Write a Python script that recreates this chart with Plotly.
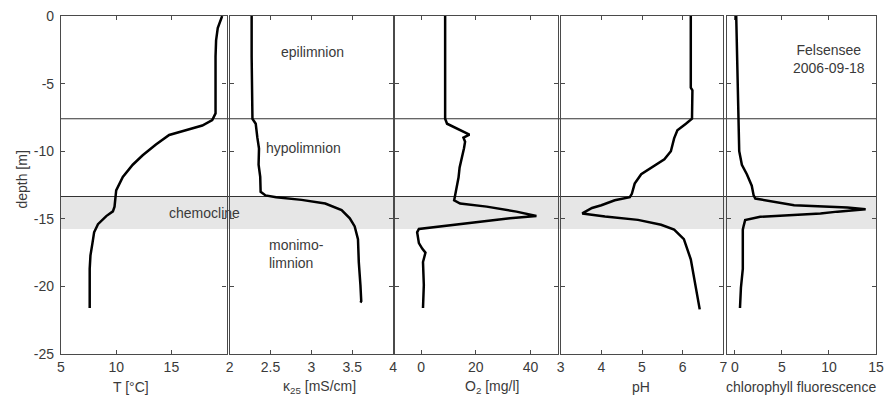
import plotly.graph_objects as go

# ---------------- data ----------------
depth_T = [0, -0.9, -1.8, -3, -5, -6.6, -7.2, -7.7, -8.1, -8.45, -8.8, -9.5, -10.3, -11.0,
           -11.9, -12.9, -13.9, -14.1, -14.45, -14.8, -15.4, -16.0, -16.8, -17.7, -18.7, -20, -21.6]
temp = [19.6, 19.2, 19.05, 19.0, 19.0, 19.0, 19.0, 18.7, 17.8, 16.3, 14.8, 13.6, 12.4, 11.5,
        10.6, 10.0, 9.85, 9.85, 9.7, 9.1, 8.35, 8.0, 7.85, 7.67, 7.6, 7.6, 7.6]

depth_k = [0, -3, -7.6, -7.97, -9.0, -9.8, -11.0, -11.9, -13.0, -13.27, -13.4, -13.6, -13.87,
           -14.36, -14.96, -15.56, -16.5, -18.2, -19.9, -21.1, -21.2]
kappa = [2.27, 2.27, 2.28, 2.32, 2.34, 2.36, 2.355, 2.375, 2.38, 2.44, 2.57, 2.88, 3.17,
         3.37, 3.47, 3.53, 3.57, 3.58, 3.60, 3.61, 3.60]

depth_O2 = [0, -3, -6.65, -7.6, -7.97, -8.33, -8.57, -8.77, -9.0, -9.3, -9.78, -10.5, -11.2,
            -11.95, -12.67, -13.4, -13.63, -13.87, -14.1, -14.47, -14.79, -14.96, -15.37,
            -15.68, -15.75, -16.0, -16.8, -17.2, -17.5, -18.2, -19.9, -21.6]
oxygen = [8.8, 8.8, 8.8, 8.8, 9.5, 13.1, 16.1, 17.7, 15.5, 16.1, 15.7, 14.9, 14.1,
          13.7, 13.1, 12.5, 12.1, 14.3, 24, 34.9, 42.2, 32.5, 14.3,
          1.0, -0.8, -1.45, -0.8, 0.4, 1.6, 0.7, 1.0, 0.7]

depth_pH = [0, -5.3, -5.5, -7.6, -7.97, -8.45, -9.05, -10.0, -10.6, -11.2, -11.7, -12.4, -13.15,
            -13.4, -13.63, -14.0, -14.2, -14.6, -14.83, -15.08, -15.44, -15.8, -16.5, -18.0,
            -19.9, -21.7]
pH = [6.2, 6.2, 6.24, 6.23, 6.08, 5.87, 5.79, 5.71, 5.55, 5.22, 4.98, 4.82, 4.75,
      4.70, 4.33, 4.0, 3.77, 3.53, 4.09, 4.9, 5.47, 5.79, 6.03, 6.2,
      6.32, 6.42]

depth_chl = [0, -1.8, -4.8, -7.6, -10.0, -11.0, -11.7, -12.55, -13.27, -13.5, -14.0, -14.16,
             -14.3, -14.47, -14.6, -14.85, -15.1, -15.55, -15.8, -18.7, -20.1, -21.6]
chl = [0.15, 0.2, 0.32, 0.4, 0.47, 0.75, 1.28, 1.8, 2.0, 2.18, 6.3, 11.95,
       13.9, 10.9, 9.1, 2.7, 1.1, 0.93, 0.85, 0.85, 0.65, 0.55]

layer_bounds = [-7.6, -13.35]
chemocline_band = [-13.35, -15.75]

y_tick_vals = [0, -5, -10, -15, -20, -25]
y_tick_text = ["0", "-5", "-10", "-15", "-20", "-25"]

x_ticks = [[5, 10, 15], [2, 2.5, 3, 3.5, 4], [0, 20, 40], [3, 4, 5, 6, 7], [0, 5, 10, 15]]
x_ranges = [[5, 20], [2, 4], [-9.5, 50], [3, 7], [-0.8, 15]]
x_titles = ["T [°C]", "κ<sub>25</sub> [mS/cm]", "O<sub>2</sub> [mg/l]", "pH", "chlorophyll fluorescence"]
x_title_pos = [11.3, 3.1, 25.8, 4.98, 6.98]

series = [(temp, depth_T), (kappa, depth_k), (oxygen, depth_O2), (pH, depth_pH), (chl, depth_chl)]

# ---------------- layout geometry ----------------
W, H = 892, 402
L, R, T, B = 61, 9, 8, 48
pw = W - L - R
panels_px = [(61, 228), (231, 396), (398, 562), (565, 729), (733, 883)]
domains = [[(a - L) / pw, (b - L) / pw] for a, b in panels_px]

FONT = "Liberation Sans, Arial, sans-serif"
FS = 14
TXT = "#3a3a3a"
AX = "#4a4a4a"

fig = go.Figure()
for i, (xv, yv) in enumerate(series):
    sfx = "" if i == 0 else str(i + 1)
    fig.add_trace(go.Scatter(x=xv, y=yv, mode="lines", xaxis="x" + sfx, yaxis="y" + sfx,
                             line=dict(color="black", width=2.5), showlegend=False,
                             hoverinfo="skip"))

lay = dict(width=W, height=H, margin=dict(l=L, r=R, t=T, b=B),
           paper_bgcolor="white", plot_bgcolor="rgba(0,0,0,0)",
           font=dict(family=FONT, size=FS, color=TXT), showlegend=False)

for i in range(5):
    sfx = "" if i == 0 else str(i + 1)
    lay["xaxis" + sfx] = dict(domain=domains[i], range=x_ranges[i], anchor="y" + sfx,
                              tickvals=x_ticks[i], ticks="inside", ticklen=4, tickwidth=1,
                              tickcolor=AX, showline=True, linecolor=AX, linewidth=1.2,
                              mirror="allticks", showgrid=False, zeroline=False,
                              tickfont=dict(family=FONT, size=FS, color=TXT))
    ya = dict(domain=[0, 1], range=[-25, 0], anchor="x" + sfx, tickvals=y_tick_vals,
              ticktext=y_tick_text, ticks="inside", ticklen=4, tickwidth=1, tickcolor=AX,
              showline=True, linecolor=AX, linewidth=1.2, mirror="allticks",
              showgrid=False, zeroline=False, showticklabels=(i == 0),
              tickfont=dict(family=FONT, size=FS, color=TXT), ticklabelstandoff=3)
    if i > 0:
        ya["matches"] = "y"
    lay["yaxis" + sfx] = ya

fig.update_layout(**lay)

# shaded chemocline band and layer boundaries
fig.add_shape(type="rect", xref="paper", yref="y", x0=0, x1=1,
              y0=chemocline_band[0], y1=chemocline_band[1],
              fillcolor="#e6e6e6", line=dict(width=0), layer="below")
for yb in layer_bounds:
    fig.add_shape(type="line", xref="paper", yref="y", x0=0, x1=1, y0=yb, y1=yb,
                  line=dict(color="#333333", width=1.2), layer="below")

# axis titles
for i in range(5):
    sfx = "" if i == 0 else str(i + 1)
    fig.add_annotation(text=x_titles[i], xref="x" + sfx, yref="paper", x=x_title_pos[i], y=0,
                       yshift=-33, showarrow=False, xanchor="center", yanchor="middle",
                       font=dict(family=FONT, size=FS, color=TXT))
fig.add_annotation(text="depth [m]", xref="paper", yref="y", x=0, y=-12.1, xshift=-49,
                   textangle=-90, showarrow=False, font=dict(family=FONT, size=FS, color=TXT))

# in-plot labels
notes = [("epilimnion", "x2", "y2", 3.02, -2.67, "center"),
         ("hypolimnion", "x2", "y2", 2.905, -9.78, "center"),
         ("chemocline", "x", "y", 18.03, -14.6, "center"),
         ("monimo-<br>limnion", "x2", "y2", 2.46, -17.6, "left"),
         ("Felsensee<br>2006-09-18", "x5", "y5", 10.0, -3.2, "center")]
for txt, xr, yr, xx, yy, anc in notes:
    fig.add_annotation(text=txt, xref=xr, yref=yr, x=xx, y=yy, showarrow=False,
                       xanchor=anc, yanchor="middle", align=anc,
                       font=dict(family=FONT, size=FS, color=TXT))

fig.write_html("out.html")
